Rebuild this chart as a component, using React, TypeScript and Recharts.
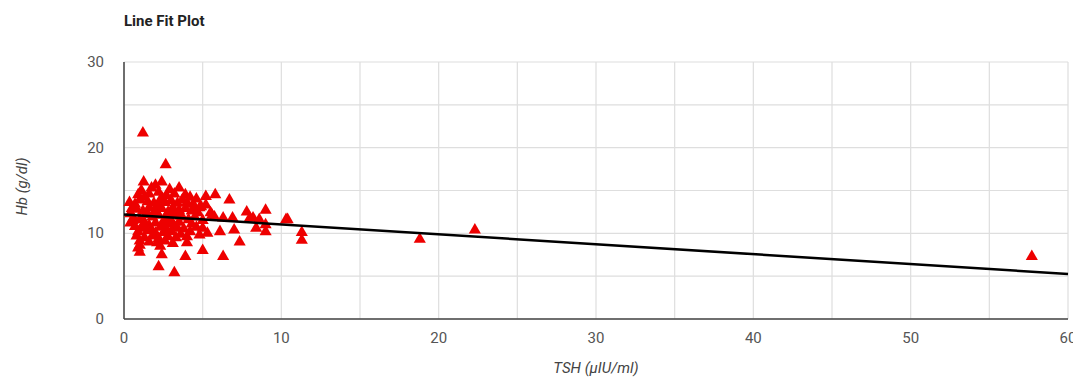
import { CartesianGrid, Scatter, ScatterChart, XAxis, YAxis } from 'recharts';

// TSH (µIU/ml) and Hb (g/dl), point by point
const tsh = [
  1.2, 2.65, 1.25, 2.4, 1.75, 3.5, 2.0, 2.9, 1.1,
  0.9, 1.6, 2.2, 2.7, 3.2, 3.9, 4.2, 1.3, 4.6,
  0.35, 0.7, 1.0, 1.5, 1.9, 2.3, 2.6, 3.0, 3.4, 3.7, 4.0, 4.4, 4.8, 5.2, 0.5,
  0.8, 1.2, 1.6, 2.0, 2.4, 2.8, 3.1, 3.5, 3.9, 4.3, 4.7, 0.4, 1.4, 2.2, 3.3, 5.5,
  0.6, 1.0, 1.8, 2.6, 3.0, 3.7, 4.1, 4.5, 5.0, 1.3, 2.0, 2.9, 3.5, 4.3, 0.4,
  0.7, 1.1, 1.6, 2.3, 2.7, 3.2, 3.8, 4.6, 0.9, 1.5, 2.0, 2.5, 3.0, 3.6, 4.2,
  0.8, 1.3, 1.8, 2.2, 2.8, 3.3, 4.0, 4.8, 1.0, 1.6, 2.1, 2.6, 3.1,
  1.0, 1.0, 0.9, 2.3,
  5.2, 5.8, 6.7, 7.8, 9.0, 4.9, 5.6, 6.3, 6.9, 8.2, 8.6, 10.3, 9.0, 8.4, 9.0, 7.0, 6.1, 5.3, 5.0,
  7.35, 5.0, 6.3, 3.9, 2.4, 2.2, 3.2, 4.0, 11.3, 11.3, 10.4, 8.0, 5.75,
  1.45, 2.15, 2.85, 3.6, 1.7, 2.5, 3.4, 1.9, 2.45, 3.05, 1.35, 4.45, 0.55,
  18.8, 22.3, 57.7,
];
const hb = [
  21.7, 18.0, 16.0, 16.0, 15.3, 15.3, 15.6, 15.1, 15.0,
  14.5, 14.6, 14.8, 14.4, 14.6, 14.5, 14.2, 14.2, 14.0,
  13.6, 13.4, 13.9, 13.7, 13.5, 13.9, 13.6, 13.8, 13.5, 13.9, 13.6, 13.4, 13.0, 13.3, 12.9,
  12.8, 12.6, 13.0, 12.7, 12.9, 12.5, 13.0, 12.7, 12.9, 12.6, 12.4, 12.3, 12.2, 12.1, 12.2, 12.4,
  11.8, 11.6, 11.9, 11.7, 11.5, 11.9, 11.6, 11.9, 11.5, 11.3, 11.2, 11.1, 11.3, 11.1, 11.2,
  10.8, 10.6, 10.9, 10.7, 10.4, 10.8, 10.5, 10.7, 10.2, 10.3, 10.0, 10.1, 10.2, 9.9, 10.2,
  9.7, 9.5, 9.7, 9.4, 9.6, 9.5, 9.6, 9.8, 9.1, 9.0, 8.9, 9.1, 8.8,
  8.6, 7.8, 8.3, 8.5,
  14.3, 14.5, 13.9, 12.5, 12.7, 13.1, 12.1, 11.8, 11.8, 11.8, 11.6, 11.6, 11.0, 10.6, 10.2, 10.4, 10.2, 10.0, 10.6,
  9.0, 8.0, 7.3, 7.3, 7.5, 6.1, 5.4, 8.9, 10.1, 9.2, 11.6, 11.8, 11.9,
  12.4, 13.3, 11.4, 12.0, 10.5, 11.0, 10.6, 12.4, 14.1, 12.3, 10.8, 12.9, 11.5,
  9.3, 10.4, 7.3,
];

// regression line end points
const fitTsh = [0, 60];
const fitHb = [12.2, 5.25];

const xTicks = [0, 5, 10, 15, 20, 25, 30, 35, 40, 45, 50, 55, 60];
const yTicks = [0, 5, 10, 15, 20, 25, 30];

const points = tsh.map((x, i) => ({ x, y: hb[i] }));
const fitLine = fitTsh.map((x, i) => ({ x, y: fitHb[i] }));

const tickStyle = { fontSize: 15, fill: '#555', fontFamily: 'Roboto, "Open Sans", Arial, sans-serif' };

function XTick({ x, y, payload }: any) {
  if (payload.value % 10 !== 0) return null;
  return (
    <text x={x} y={y + 16} textAnchor="middle" style={tickStyle}>
      {payload.value}
    </text>
  );
}

function YTick({ x, y, payload }: any) {
  if (payload.value % 10 !== 0) return null;
  return (
    <text x={x - 12} y={y + 5} textAnchor="end" style={tickStyle}>
      {payload.value}
    </text>
  );
}

export default function App() {
  return (
    <div style={{ margin: -8, width: 1081, height: 385, background: '#fff', position: 'relative', fontFamily: 'Roboto, Arial, sans-serif' }}>
      <div style={{ position: 'absolute', left: 124, top: 12, fontSize: 15, fontWeight: 700, color: '#222' }}>Line Fit Plot</div>
      <ScatterChart width={1081} height={385} margin={{ top: 62, right: 13, bottom: 36, left: 64 }}>
        <CartesianGrid stroke="#dedede" strokeWidth={1.2} />
        <XAxis
          type="number"
          dataKey="x"
          domain={[0, 60]}
          ticks={xTicks}
          interval={0}
          height={30}
          tick={<XTick />}
          tickLine={false}
          axisLine={{ stroke: '#444', strokeWidth: 1.5 }}
          label={{ value: 'TSH (μIU/ml)', position: 'insideBottom', offset: -24, style: { ...tickStyle, fontStyle: 'italic', fill: '#444' } }}
        />
        <YAxis
          type="number"
          dataKey="y"
          domain={[0, 30]}
          ticks={yTicks}
          interval={0}
          width={60}
          tick={<YTick />}
          tickLine={false}
          axisLine={{ stroke: '#444', strokeWidth: 1.5 }}
          label={{ value: 'Hb (g/dl)', angle: -90, position: 'insideLeft', offset: -42, dy: -4, style: { ...tickStyle, fontStyle: 'italic', fill: '#444', textAnchor: 'middle' } }}
        />
        <Scatter data={points} fill="#ee0000" shape="triangle" legendType="none" isAnimationActive={false} />
        <Scatter
          data={fitLine}
          line={{ stroke: '#000', strokeWidth: 2.5 }}
          shape={() => null}
          legendType="none"
          isAnimationActive={false}
        />
      </ScatterChart>
    </div>
  );
}
